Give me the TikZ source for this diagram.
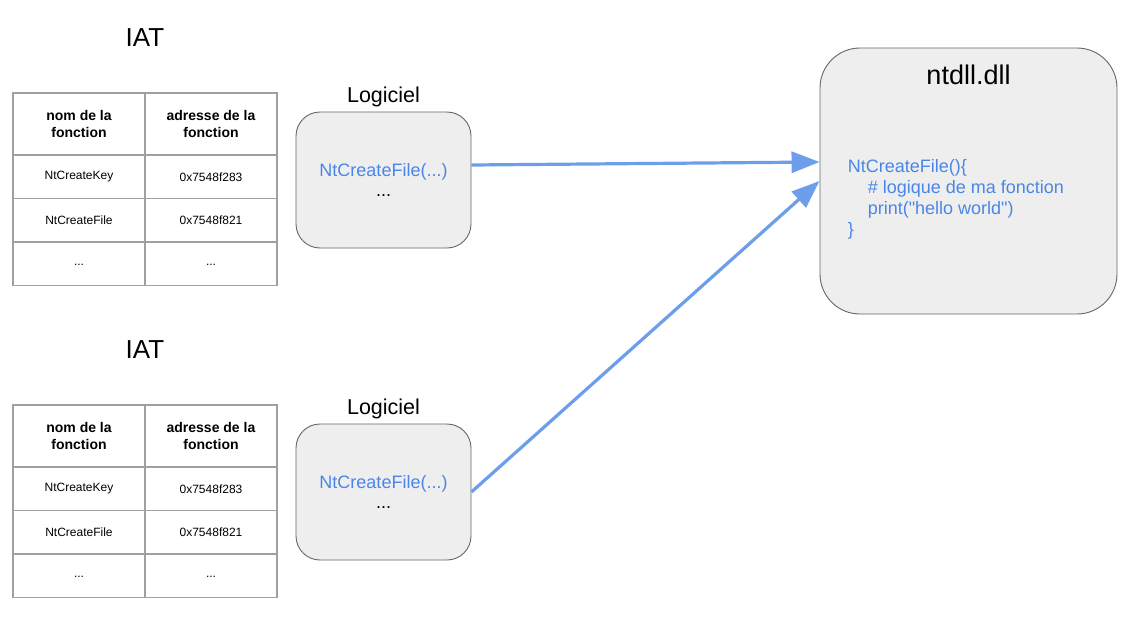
\documentclass[tikz,border=0pt]{standalone}
\usepackage{fontspec}
\setmainfont{Liberation Sans}
\newfontfamily\codefont{Liberation Sans}
\usetikzlibrary{positioning,calc,arrows.meta}

\definecolor{Cboxgray}{HTML}{EEEEEE}
\definecolor{Cedgegray}{HTML}{666666}
\definecolor{Cgridgray}{HTML}{A0A0A0}
\definecolor{Ccodeblue}{HTML}{4A86E8}
\definecolor{Carrowblue}{HTML}{6D9EEB}

\tikzset{
	cell/.style={draw=Cgridgray,line width=1.3pt,minimum width=132pt,inner sep=0pt,outer sep=0pt,align=center},
	headcell/.style={cell,anchor=north west,minimum height=62pt,font=\fontsize{14}{17}\selectfont\bfseries},
	bodycell/.style={cell,minimum height=43.5pt,font=\fontsize{12}{14}\selectfont},
	bigtitle/.style={inner sep=0pt,font=\fontsize{26}{30}\selectfont},
	logtitle/.style={inner sep=0pt,font=\fontsize{21.5}{24}\selectfont},
	logbox/.style={draw=Cedgegray,line width=0.9pt,fill=Cboxgray,rounded corners=24pt,minimum width=175pt,minimum height=136pt,align=center,inner sep=0pt,font=\fontsize{18}{20.5}\selectfont},
	dllbox/.style={draw=Cedgegray,line width=0.9pt,fill=Cboxgray,rounded corners=40pt,minimum width=297pt,minimum height=266pt},
	codetext/.style={inner sep=0pt,align=left,text=Ccodeblue,font=\codefont\fontsize{18}{21}\selectfont},
	link/.style={Carrowblue,line width=3.2pt,-{Triangle[length=28pt,width=21pt]}}
}

\begin{document}
\begin{tikzpicture}[x=1pt,y=-1pt]
	\useasboundingbox (0,0) rectangle (1143,616);

	% two IAT tables with their programs
	\foreach \k/\top in {a/93,b/405}{
		\node[bigtitle] (iat\k) at (145,\top-55) {IAT};
		\node[headcell] (hn\k) at (13,\top) {nom de la\\fonction};
		\node[headcell,right=0pt of hn\k] (ha\k) {adresse de la\\fonction};
		\node[bodycell,below=0pt of hn\k] (kn\k) {NtCreateKey};
		\node[bodycell,below=0pt of ha\k] (ka\k) {0x7548f283};
		\node[bodycell,below=0pt of kn\k] (fn\k) {NtCreateFile};
		\node[bodycell,below=0pt of ka\k] (fa\k) {0x7548f821};
		\node[bodycell,below=0pt of fn\k] (dn\k) {\raisebox{-3pt}{...}};
		\node[bodycell,below=0pt of fa\k] (da\k) {\raisebox{-3pt}{...}};
		\node[logbox] (log\k) at (383.5,\top+87) {{\color{Ccodeblue}NtCreateFile(...)}\\...};
		\node[logtitle,above=4pt of log\k] (lt\k) {Logiciel};
	}

	% the dll
	\node[dllbox] (ntdll) at (968.5,181) {};
	\node[inner sep=0pt,font=\fontsize{27}{30}\selectfont,below=17pt of ntdll.north] (dlltitle) {ntdll.dll};
	\node[codetext,anchor=north west] (code) at ($(ntdll.north west)+(28,112)$)
		{NtCreateFile()\{\\
		\hspace*{20pt}\# logique de ma fonction\\
		\hspace*{20pt}print("hello world")\\
		\}};

	% calls
	\coordinate (out1) at ($(loga.east)+(0,-15)$);
	\coordinate (in1) at ($(ntdll.west)+(0,-19)$);
	\draw[link] (out1) -- (in1);
	\draw[link] (logb.east) -- (ntdll.west);
\end{tikzpicture}
\end{document}
